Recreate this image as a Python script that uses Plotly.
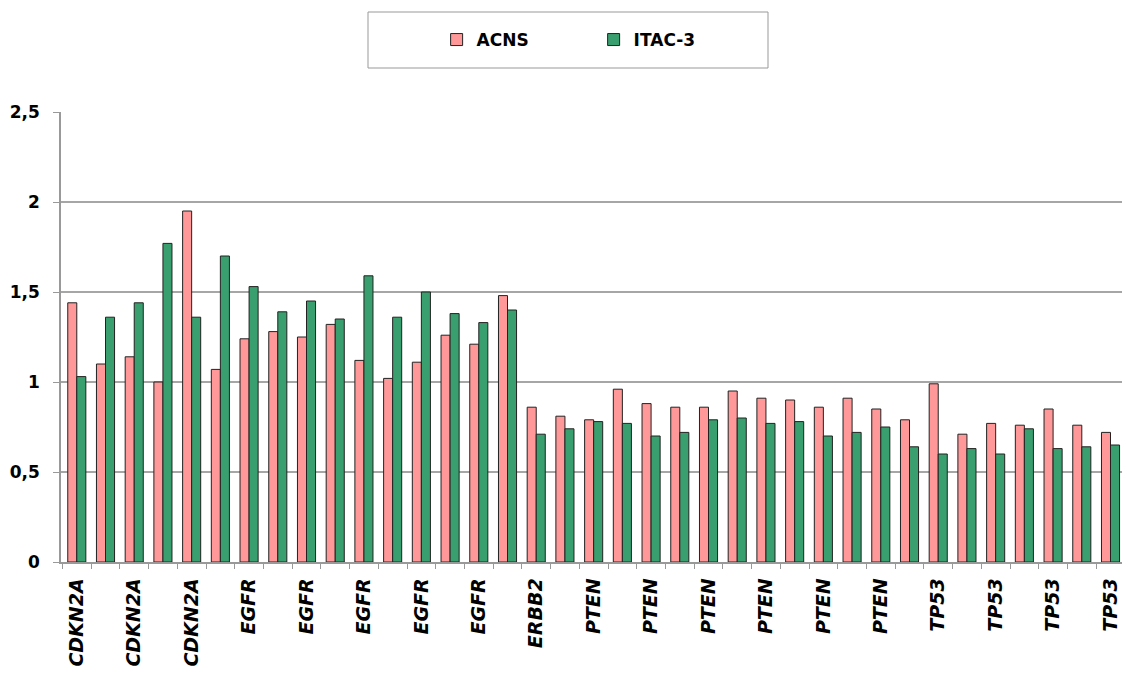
import plotly.graph_objects as go

genes = ["CDKN2A", "CDKN2A", "CDKN2A", "CDKN2A", "CDKN2A", "CDKN2A",
         "EGFR", "EGFR", "EGFR", "EGFR", "EGFR", "EGFR", "EGFR", "EGFR", "EGFR", "EGFR",
         "ERBB2", "ERBB2",
         "PTEN", "PTEN", "PTEN", "PTEN", "PTEN", "PTEN", "PTEN", "PTEN", "PTEN", "PTEN", "PTEN", "PTEN",
         "TP53", "TP53", "TP53", "TP53", "TP53", "TP53", "TP53"]

acns = [1.44, 1.10, 1.14, 1.00, 1.95, 1.07, 1.24, 1.28, 1.25, 1.32,
        1.12, 1.02, 1.11, 1.26, 1.21, 1.48, 0.86, 0.81, 0.79, 0.96,
        0.88, 0.86, 0.86, 0.95, 0.91, 0.90, 0.86, 0.91, 0.85, 0.79,
        0.99, 0.71, 0.77, 0.76, 0.85, 0.76, 0.72]

itac3 = [1.03, 1.36, 1.44, 1.77, 1.36, 1.70, 1.53, 1.39, 1.45, 1.35,
         1.59, 1.36, 1.50, 1.38, 1.33, 1.40, 0.71, 0.74, 0.78, 0.77,
         0.70, 0.72, 0.79, 0.80, 0.77, 0.78, 0.70, 0.72, 0.75, 0.64,
         0.60, 0.63, 0.60, 0.74, 0.63, 0.64, 0.65]

y_ticks = [0, 0.5, 1, 1.5, 2, 2.5]
y_ticktext = ["0", "0,5", "1", "1,5", "2", "2,5"]

pos = list(range(1, len(genes) + 1))
FONT = "DejaVu Sans"

fig = go.Figure()
fig.add_trace(go.Bar(x=pos, y=acns, name="ACNS",
                     marker=dict(color="#FF9999", line=dict(color="#222222", width=1))))
fig.add_trace(go.Bar(x=pos, y=itac3, name="ITAC-3",
                     marker=dict(color="#3A9F6F", line=dict(color="#222222", width=1))))

fig.update_layout(
    width=1122, height=673,
    paper_bgcolor="white", plot_bgcolor="white",
    margin=dict(l=61, r=0, t=112, b=111, autoexpand=False),
    barmode="group", bargap=0.37, bargroupgap=0,
    showlegend=True,
    legend=dict(orientation="h", x=0.502, xanchor="center", y=1.16, yanchor="middle",
                font=dict(family=FONT, size=17, color="black", weight="bold"),
                entrywidth=112, entrywidthmode="pixels",
                bgcolor="rgba(0,0,0,0)", borderwidth=0, traceorder="normal"),
    shapes=[dict(type="rect", xref="paper", yref="paper",
                 x0=(368 - 61) / 1061, x1=(768 - 61) / 1061,
                 y0=(562 - 68) / 450, y1=(562 - 12) / 450,
                 line=dict(color="#999999", width=1), fillcolor="rgba(0,0,0,0)")],
)

fig.update_xaxes(
    range=[0.45, 37.4], automargin=False,
    tickmode="array", tickvals=pos[::2], ticktext=genes[::2],
    tickangle=-90, ticks="", ticklabelstandoff=7,
    tickfont=dict(family=FONT, size=19, color="black", weight="bold", style="italic"),
    showline=True, linecolor="#999999", linewidth=1.5,
    showgrid=False, zeroline=False,
    minor=dict(tickvals=[p - 0.5 for p in pos] + [pos[-1] + 0.5], ticks="outside",
               ticklen=5, tickcolor="#999999", tickwidth=1, showgrid=False),
)
fig.update_yaxes(
    range=[0, 2.5], automargin=False,
    tickmode="array", tickvals=y_ticks, ticktext=y_ticktext,
    ticks="outside", ticklen=6, tickcolor="#999999", ticklabelstandoff=10,
    tickfont=dict(family=FONT, size=17, color="black", weight="bold"),
    showline=True, linecolor="#999999", linewidth=1.5,
    showgrid=True, gridcolor="#A6A6A6", gridwidth=1.5, zeroline=False,
)

fig.write_html("out.html", config={"displayModeBar": False},
               post_script="document.body.style.margin='0';document.body.style.overflow='hidden';")
